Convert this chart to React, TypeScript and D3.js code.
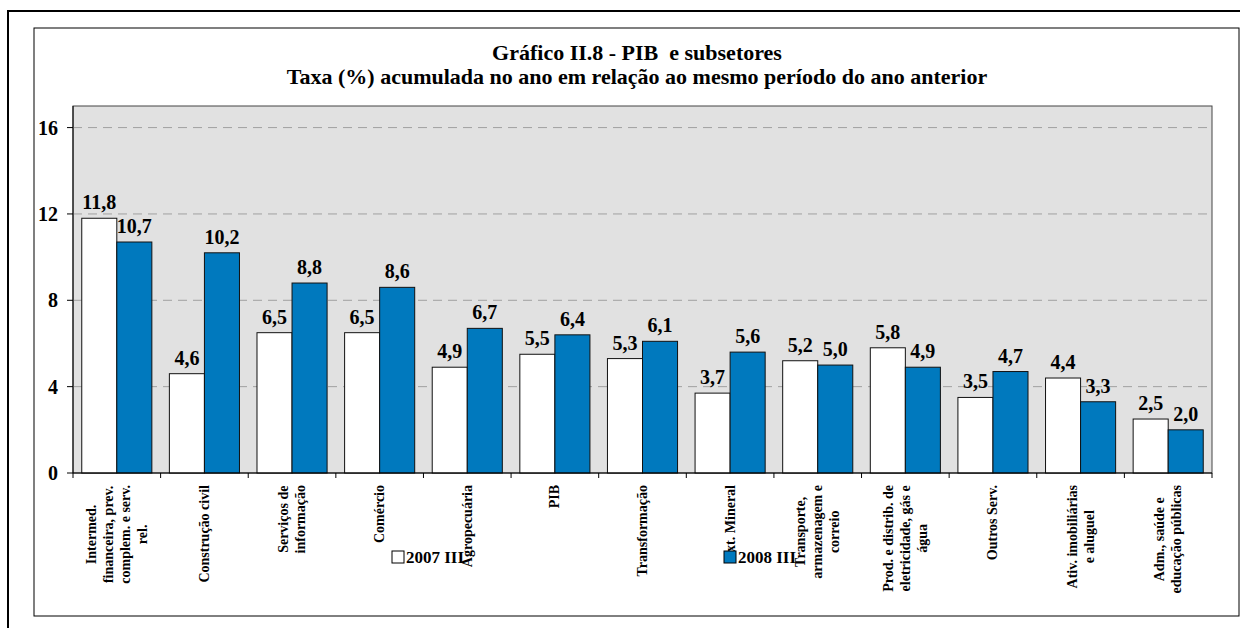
import { useEffect, useRef } from "react";
import * as d3 from "d3";

const categories = [
  "Intermed.\nfinanceira, prev.\ncomplem. e serv.\nrel.",
  "Construção civil",
  "Serviços de\ninformação",
  "Comércio",
  "Agropecuária",
  "PIB",
  "Transformação",
  "Ext. Mineral",
  "Transporte,\narmazenagem e\ncorreio",
  "Prod. e distrib. de\neletricidade, gás e\nágua",
  "Outros Serv.",
  "Ativ. imobiliárias\ne aluguel",
  "Adm., saúde e\neducação públicas",
]
const values2007 = [11.8, 4.6, 6.5, 6.5, 4.9, 5.5, 5.3, 3.7, 5.2, 5.8, 3.5, 4.4, 2.5]
const values2008 = [10.7, 10.2, 8.8, 8.6, 6.7, 6.4, 6.1, 5.6, 5.0, 4.9, 4.7, 3.3, 2.0]
const seriesNames = ["2007 III", "2008 III"]
const colors = ["#ffffff", "#0079be"]
const yTicks = [0, 4, 8, 12, 16]
const titleLines = ["Gráfico II.8 - PIB  e subsetores", "Taxa (%) acumulada no ano em relação ao mesmo período do ano anterior"]

const W = 1254
const H = 628
const FONT = "'Liberation Serif', 'Times New Roman', serif"

export default function App() {
  const svgRef = useRef<SVGSVGElement>(null)

  useEffect(() => {
    const svg = d3.select(svgRef.current).html(null)

    const left = 73, right = 1212, bottom = 473
    const x = d3.scaleBand<string>().domain(categories).range([left, right]).paddingInner(0.2).paddingOuter(0.1)
    const step = x.step()
    const x1 = d3.scaleBand<string>().domain(seriesNames).range([0, x.bandwidth()])
    const y = d3.scaleLinear().domain([0, 17]).range([bottom, 106])

    // frames
    svg.append("path")
      .attr("d", `M8,${H + 5} L8,11 L1240,11`)
      .attr("fill", "none").attr("stroke", "#000").attr("stroke-width", 2)
    svg.append("rect")
      .attr("x", 34).attr("y", 28).attr("width", 1205).attr("height", 588)
      .attr("fill", "none").attr("stroke", "#000").attr("stroke-width", 1)

    // title
    svg.append("g").selectAll("text").data(titleLines).join("text")
      .attr("x", 637).attr("y", (_, i) => 60 + i * 24)
      .attr("text-anchor", "middle")
      .style("font-family", FONT).style("font-weight", "bold").style("font-size", "22px")
      .style("white-space", "pre")
      .text(d => d)

    // plot area
    svg.append("rect")
      .attr("x", left).attr("y", y(17)).attr("width", right - left).attr("height", bottom - y(17))
      .attr("fill", "#e1e1e1").attr("stroke", "#444").attr("stroke-width", 1)

    svg.append("g").selectAll("line").data(yTicks.filter(t => t > 0)).join("line")
      .attr("x1", left).attr("x2", right).attr("y1", d => y(d)).attr("y2", d => y(d))
      .attr("stroke", "#a0a0a0").attr("stroke-dasharray", "9,6")

    // bars
    const groups = svg.append("g").selectAll("g").data(categories).join("g")
      .attr("transform", d => `translate(${x(d)},0)`)
    groups.each(function (_, i) {
      const g = d3.select(this)
      const vals = [values2007[i], values2008[i]]
      g.selectAll("rect").data(vals).join("rect")
        .attr("x", (_, j) => x1(seriesNames[j]) as number)
        .attr("y", d => y(d))
        .attr("width", x1.bandwidth())
        .attr("height", d => bottom - y(d))
        .attr("fill", (_, j) => colors[j])
        .attr("stroke", "#111").attr("stroke-width", 1)
      g.selectAll("text").data(vals).join("text")
        .attr("x", (_, j) => (x1(seriesNames[j]) as number) + x1.bandwidth() / 2)
        .attr("y", d => y(d) - 9)
        .attr("text-anchor", "middle")
        .style("font-family", FONT).style("font-weight", "bold").style("font-size", "20px")
        .text(d => d.toFixed(1).replace(".", ","))
    })

    // axes
    svg.append("line").attr("x1", left).attr("x2", left).attr("y1", y(17)).attr("y2", bottom)
      .attr("stroke", "#000")
    svg.append("line").attr("x1", left).attr("x2", right).attr("y1", bottom).attr("y2", bottom)
      .attr("stroke", "#000")
    svg.append("g").selectAll("line").data(yTicks).join("line")
      .attr("x1", left - 6).attr("x2", left).attr("y1", d => y(d)).attr("y2", d => y(d))
      .attr("stroke", "#000")
    svg.append("g").selectAll("text").data(yTicks).join("text")
      .attr("x", left - 15).attr("y", d => y(d)).attr("dy", "0.35em")
      .attr("text-anchor", "end")
      .style("font-family", FONT).style("font-weight", "bold").style("font-size", "20px")
      .text(d => d)
    svg.append("g").selectAll("line").data(d3.range(categories.length + 1)).join("line")
      .attr("x1", i => left + i * step).attr("x2", i => left + i * step)
      .attr("y1", bottom).attr("y2", bottom + 5)
      .attr("stroke", "#000")

    // category labels (rotated, lines centred on each other)
    const lineH = 17
    categories.forEach(cat => {
      const lines = cat.split("\n")
      const cx = (x(cat) as number) + x.bandwidth() / 2
      const g = svg.append("g")
      const texts = g.selectAll("text").data(lines).join("text")
        .attr("text-anchor", "middle")
        .attr("dominant-baseline", "central")
        .attr("y", (_, i) => (i - (lines.length - 1) / 2) * lineH)
        .style("font-family", FONT).style("font-weight", "bold").style("font-size", "14px")
        .text(d => d)
      let maxLen = 0
      texts.each(function () {
        maxLen = Math.max(maxLen, (this as SVGTextElement).getComputedTextLength())
      })
      g.attr("transform", `translate(${cx},${bottom + 12 + maxLen / 2}) rotate(-90)`)
    })

    // legend
    const legend = svg.append("g")
    const legendX = [392, 724]
    seriesNames.forEach((name, i) => {
      legend.append("rect")
        .attr("x", legendX[i]).attr("y", 551).attr("width", 12).attr("height", 12)
        .attr("fill", colors[i]).attr("stroke", "#000")
      legend.append("text")
        .attr("x", legendX[i] + 14).attr("y", 563)
        .style("font-family", FONT).style("font-weight", "bold").style("font-size", "17px")
        .text(name)
    })
  }, [])

  return (
    <svg ref={svgRef} width={W} height={H}
      style={{ position: "absolute", left: 0, top: 0, background: "#fff" }} />
  )
}
